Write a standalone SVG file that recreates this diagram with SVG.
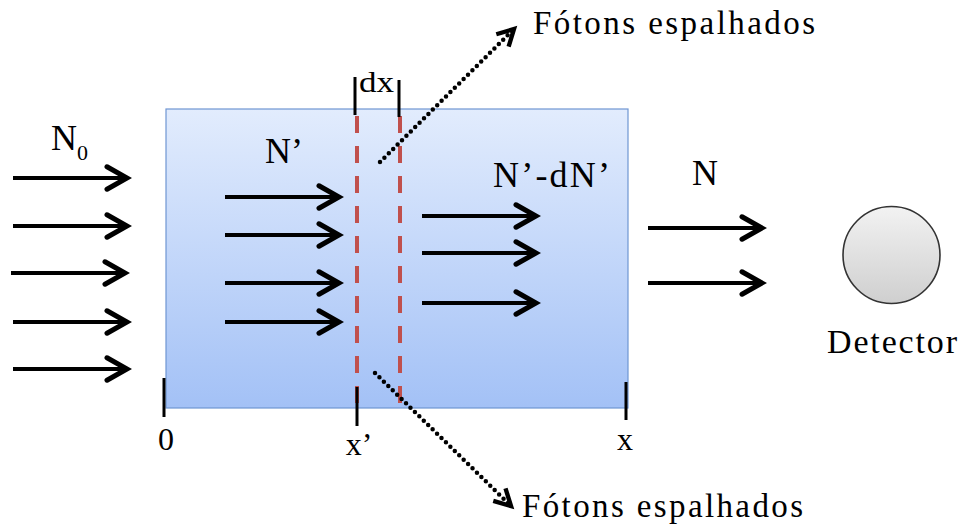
<svg xmlns="http://www.w3.org/2000/svg" width="968" height="529" viewBox="0 0 968 529">
  <defs>
    <linearGradient id="slab" x1="0" y1="0" x2="0" y2="1">
      <stop offset="0" stop-color="#e2ecfd"/>
      <stop offset="1" stop-color="#a3c1f6"/>
    </linearGradient>
    <linearGradient id="det" x1="0" y1="0" x2="0" y2="1">
      <stop offset="0" stop-color="#f2f2f2"/>
      <stop offset="1" stop-color="#cfcfcf"/>
    </linearGradient>
    <marker id="ah" markerUnits="userSpaceOnUse" markerWidth="30" markerHeight="30" viewBox="-20 -12 24 24" refX="0" refY="0" orient="auto">
      <path d="M-16,-9 L0,0 L-16,9" fill="none" stroke="#000" stroke-width="4" stroke-linecap="round" stroke-linejoin="miter"/>
    </marker>
    <marker id="dh" markerUnits="userSpaceOnUse" markerWidth="30" markerHeight="30" viewBox="-20 -12 24 24" refX="0" refY="0" orient="auto">
      <path d="M-13,-7 L0,0 L-13,7" fill="none" stroke="#000" stroke-width="3.5" stroke-linejoin="miter"/>
    </marker>
  </defs>
  <style>
    .t { font-family: "Liberation Serif", "Times New Roman", serif; fill: #000; }
    .arr { stroke: #000; stroke-width: 4; fill: none; marker-end: url(#ah); }
    .dot { stroke: #000; stroke-width: 4.5; fill: none; stroke-dasharray: 0 6.2; stroke-linecap: round; marker-end: url(#dh); }
    .red { stroke: #c0504d; stroke-width: 4; stroke-dasharray: 17 13; fill: none; }
    .tick { stroke: #000; stroke-width: 3; }
  </style>

  <g id="slab-node">
    <rect x="166" y="109" width="462" height="299" fill="url(#slab)" stroke="#6f96d2" stroke-width="1.2"/>
  </g>

  <g id="layer-dx">
    <line class="red" x1="357" y1="116" x2="357" y2="408"/>
    <line class="red" x1="400" y1="116" x2="400" y2="408"/>
    <line class="tick" x1="355" y1="77" x2="355" y2="115"/>
    <line class="tick" x1="399" y1="80" x2="399" y2="117"/>
    <text class="t" x="359" y="92" font-size="30" textLength="35" lengthAdjust="spacingAndGlyphs">dx</text>
  </g>

  <g id="axis">
    <line class="tick" x1="164" y1="378" x2="164" y2="417"/>
    <line class="tick" x1="357" y1="387" x2="357" y2="426"/>
    <line class="tick" x1="626" y1="382" x2="626" y2="420"/>
    <text class="t" x="166" y="450" font-size="32" text-anchor="middle">0</text>
    <text class="t" x="359" y="455" font-size="32" text-anchor="middle">x’</text>
    <text class="t" x="625" y="450" font-size="32" text-anchor="middle">x</text>
  </g>

  <g id="detector">
    <circle cx="891.5" cy="255" r="48.5" fill="url(#det)" stroke="#333" stroke-width="1.6"/>
    <text class="t" x="827" y="353" font-size="34" textLength="130" lengthAdjust="spacing">Detector</text>
  </g>

  <g id="labels">
    <text class="t" x="51" y="150" font-size="36">N<tspan font-size="22" dy="10">0</tspan></text>
    <text class="t" x="265" y="163" font-size="36">N’</text>
    <text class="t" x="493" y="187" font-size="36" textLength="117" lengthAdjust="spacing">N’-dN’</text>
    <text class="t" x="692" y="185" font-size="36">N</text>
    <text class="t" x="533" y="34" font-size="33" textLength="282" lengthAdjust="spacing">Fótons espalhados</text>
    <text class="t" x="522" y="517" font-size="33" textLength="281" lengthAdjust="spacing">Fótons espalhados</text>
  </g>

  <g id="connectors">
    <line class="arr" x1="13" y1="178" x2="127" y2="178"/>
    <line class="arr" x1="13" y1="226" x2="127" y2="226"/>
    <line class="arr" x1="11" y1="273" x2="125" y2="273"/>
    <line class="arr" x1="13" y1="322" x2="127" y2="322"/>
    <line class="arr" x1="13" y1="369" x2="127" y2="369"/>

    <line class="arr" x1="225" y1="197" x2="339" y2="197"/>
    <line class="arr" x1="225" y1="235" x2="339" y2="235"/>
    <line class="arr" x1="225" y1="283" x2="339" y2="283"/>
    <line class="arr" x1="225" y1="322" x2="339" y2="322"/>

    <line class="arr" x1="422" y1="216" x2="536" y2="216"/>
    <line class="arr" x1="422" y1="253" x2="536" y2="253"/>
    <line class="arr" x1="422" y1="303" x2="536" y2="303"/>

    <line class="arr" x1="648" y1="228" x2="762" y2="228"/>
    <line class="arr" x1="648" y1="283" x2="762" y2="283"/>

    <line class="dot" x1="380" y1="162" x2="514" y2="29"/>
    <line class="dot" x1="375" y1="373" x2="511" y2="506"/>
  </g>
</svg>
